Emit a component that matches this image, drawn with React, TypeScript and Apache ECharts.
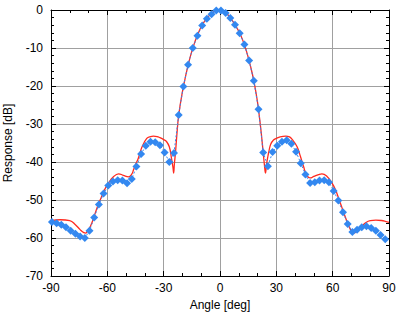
import React, { useEffect, useRef } from "react";
import * as echarts from "echarts";

// Measured (blue diamonds)
const measAngles = [
  -89.5, -87, -84.5, -82, -79.5, -77, -74.5, -72, -69.5, -67, -64.5, -62,
  -59.5, -57, -54.5, -52, -49.5, -47, -44.5, -42, -39.5, -37, -34.5, -32,
  -29.5, -27, -24.5, -22, -19.5, -17, -14.5, -12, -9.5, -7, -4.5, -2,
  0.5, 3, 5.5, 8, 10.5, 13, 15.5, 18, 20.5, 23, 25.5, 28,
  30.5, 33, 35.5, 38, 40.5, 43, 45.5, 48, 50.5, 53, 55.5, 58,
  60.5, 63, 65.5, 68, 70.5, 73, 75.5, 78, 80.5, 83, 85.5, 88,
];
const measValues = [
  -55.8, -56.1, -56.5, -57.2, -58.1, -58.9, -59.6, -60.0, -58.1, -54.6, -51.2, -48.3,
  -46.2, -45.1, -44.8, -44.9, -45.6, -44.5, -41.2, -37.9, -35.7, -34.7, -34.8, -35.6,
  -37.5, -40.0, -37.6, -27.6, -20.1, -14.4, -10.0, -6.8, -4.1, -2.3, -1.1, -0.1,
  -0.1, -0.8, -2.1, -3.9, -6.1, -9.1, -13.3, -18.6, -26.1, -37.5, -41.1, -37.4,
  -35.7, -34.7, -34.3, -35.2, -37.3, -40.3, -43.3, -45.5, -45.3, -44.9, -44.8, -45.3,
  -47.6, -50.1, -53.2, -56.3, -58.4, -57.8, -57.2, -56.9, -57.4, -58.1, -59.2, -60.3,
];

// Simulated (red line)
const simAngles = [
  -90, -85, -80, -77, -74.5, -72.5, -71.5, -70.8, -69, -67.3, -65.5, -63.7,
  -61.5, -59.3, -57, -54, -51.5, -48.7, -47, -46, -45, -43.5, -41.5, -39,
  -37, -35.5, -33.5, -32, -30, -28.5, -27, -26, -25, -24.7, -24.3, -23.7, -23, -22, -20,
  -18, -16, -14, -12, -10, -8, -6, -4, -2, 0,
  2, 4, 6, 8, 10, 12, 14, 16, 18, 20, 21, 22,
  23, 23.7, 24.2, 24.8, 25.4, 26, 27, 28.5, 30, 32, 35, 37, 38.3, 41,
  42.8, 44.5, 46, 48, 50, 52.5, 54.3, 57, 59.6, 61.5, 63.5, 65.5,
  67.5, 69.5, 71, 72.5, 75, 77.5, 80, 83, 86, 88, 90,
];
const simValues = [
  -55.4, -55.2, -55.4, -56.5, -57.8, -58.6, -58.7, -58.3, -56.9, -54.7, -52.1, -49.9,
  -47.3, -45.5, -44.0, -43.1, -43.5, -43.9, -43.2, -42.0, -40.7, -39.0, -36.0, -33.8,
  -33.3, -33.2, -33.3, -33.6, -34.1, -34.6, -36.0, -38.5, -41.6, -42.9, -40.5, -37.5, -33.0, -27.7, -21.5,
  -16.7, -12.6, -9.3, -6.6, -4.4, -2.8, -1.6, -0.7, -0.15, 0,
  -0.3, -1.1, -2.4, -3.9, -5.6, -7.8, -10.7, -14.3, -18.6, -24.3, -28.2, -32.5,
  -37.5, -41.0, -42.9, -40.5, -38.8, -37.3, -35.3, -34.2, -33.8, -33.4, -33.2, -33.4, -34.0, -35.9,
  -38.5, -41.2, -43.3, -44.2, -43.8, -43.3, -43.1, -43.8, -45.5, -47.3, -50.0, -52.8,
  -55.5, -57.8, -58.7, -58.4, -57.2, -56.0, -55.4, -55.3, -55.4, -55.6, -55.9,
];

const FONT = "'Liberation Sans', Arial, Helvetica, sans-serif";

export default function App() {
  const ref = useRef<HTMLDivElement>(null);
  useEffect(() => {
    if (!ref.current) return;
    const chart = echarts.init(ref.current, undefined, { renderer: "svg" });
    const tickCommon = {
      axisLine: { show: true, onZero: false, lineStyle: { color: "#000", width: 1 } },
      axisTick: { show: true, inside: true, length: 5, lineStyle: { color: "#000", width: 1 } },
      minorTick: { show: true, length: 3, lineStyle: { color: "#000", width: 1 } },
    };
    chart.setOption({
      animation: false,
      backgroundColor: "#fff",
      textStyle: { fontFamily: FONT },
      grid: { left: 51, right: 10, top: 10, bottom: 40, containLabel: false, outerBoundsMode: "none" },
      xAxis: [
        {
          type: "value",
          min: -90,
          max: 90,
          interval: 30,
          position: "bottom",
          ...tickCommon,
          minorTick: { ...tickCommon.minorTick, splitNumber: 3 },
          axisLabel: { color: "#000", fontSize: 12, fontFamily: FONT, margin: 6 },
          splitLine: { show: true, lineStyle: { color: "#a0a0a0", width: 1 } },
          name: "Angle [deg]",
          nameLocation: "middle",
          nameGap: 22,
          nameTextStyle: { color: "#000", fontSize: 12, fontFamily: FONT },
        },
        {
          type: "value",
          min: -90,
          max: 90,
          interval: 30,
          position: "top",
          ...tickCommon,
          minorTick: { ...tickCommon.minorTick, splitNumber: 3 },
          axisLabel: { show: false },
          splitLine: { show: false },
        },
      ],
      yAxis: [
        {
          type: "value",
          min: -70,
          max: 0,
          interval: 10,
          position: "left",
          ...tickCommon,
          minorTick: { ...tickCommon.minorTick, splitNumber: 5 },
          axisLabel: { color: "#000", fontSize: 12, fontFamily: FONT, margin: 8 },
          splitLine: { show: true, lineStyle: { color: "#a0a0a0", width: 1 } },
          name: "Response [dB]",
          nameLocation: "middle",
          nameGap: 37,
          nameTextStyle: { color: "#000", fontSize: 12, fontFamily: FONT },
        },
        {
          type: "value",
          min: -70,
          max: 0,
          interval: 10,
          position: "right",
          ...tickCommon,
          minorTick: { ...tickCommon.minorTick, splitNumber: 5 },
          axisLabel: { show: false },
          splitLine: { show: false },
        },
      ],
      series: [
        {
          type: "line",
          xAxisIndex: 0,
          yAxisIndex: 0,
          data: simAngles.map((a, i) => [a, simValues[i]]),
          showSymbol: false,
          symbol: "none",
          smooth: 0.45,
          lineStyle: { color: "#ff2a1f", width: 1.3 },
          z: 2,
        },
        {
          type: "line",
          xAxisIndex: 0,
          yAxisIndex: 0,
          data: measAngles.map((a, i) => [a, measValues[i]]),
          symbol: "diamond",
          symbolSize: 8,
          itemStyle: { color: "#3388f0" },
          lineStyle: { color: "#3388f0", width: 1, type: [2, 2] },
          z: 3,
        },
      ],
    });
    return () => chart.dispose();
  }, []);
  return (
    <div
      ref={ref}
      style={{ position: "fixed", left: 0, top: 0, width: 399, height: 316, background: "#fff" }}
    />
  );
}
